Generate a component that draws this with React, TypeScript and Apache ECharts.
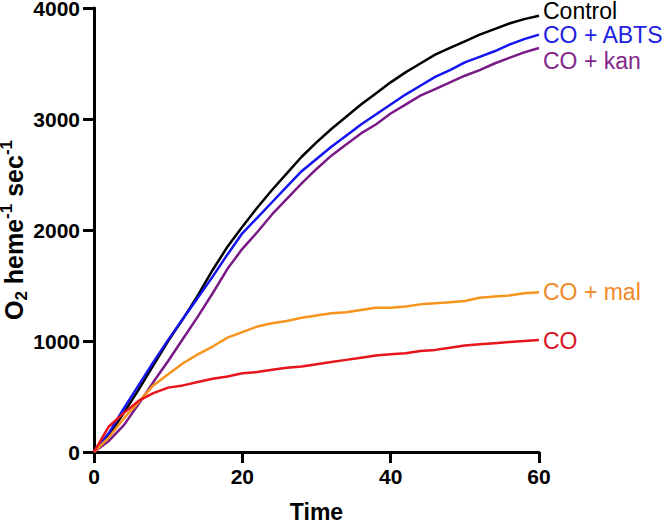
import React, { useEffect, useRef } from "react";
import * as echarts from "echarts";

const times = [0, 2, 4, 6, 8, 10, 12, 14, 16, 18, 20, 22, 24, 26, 28, 30, 32, 34, 36, 38, 40, 42, 44, 46, 48, 50, 52, 54, 56, 58, 60];

const control = [0, 150, 350, 560, 780, 1000, 1200, 1410, 1640, 1850, 2030, 2200, 2360, 2510, 2660, 2790, 2910, 3020, 3130, 3230, 3330, 3420, 3500, 3580, 3640, 3700, 3760, 3810, 3860, 3900, 3930];
const coAbts = [0, 170, 390, 600, 810, 1010, 1200, 1390, 1580, 1780, 1970, 2110, 2250, 2390, 2530, 2640, 2750, 2850, 2950, 3040, 3130, 3220, 3300, 3380, 3440, 3510, 3560, 3610, 3670, 3720, 3760];
const coKan = [0, 100, 240, 430, 630, 820, 1020, 1220, 1430, 1650, 1830, 1980, 2140, 2280, 2420, 2550, 2670, 2770, 2870, 2950, 3050, 3130, 3210, 3270, 3330, 3390, 3440, 3500, 3550, 3600, 3640];
const coMal = [0, 130, 300, 450, 600, 700, 800, 880, 950, 1030, 1080, 1130, 1160, 1180, 1210, 1230, 1250, 1260, 1280, 1300, 1300, 1310, 1330, 1340, 1350, 1360, 1390, 1400, 1410, 1430, 1440];
const co = [0, 230, 350, 460, 530, 580, 600, 630, 660, 680, 710, 720, 740, 760, 770, 790, 810, 830, 850, 870, 880, 890, 910, 920, 940, 960, 970, 980, 990, 1000, 1010];

const seriesNames = ["Control", "CO + ABTS", "CO + kan", "CO + mal", "CO"];
const seriesData = [control, coAbts, coKan, coMal, co];
const lineColors = ["#000000", "#1414f0", "#7a1a86", "#f7941d", "#e8141c"];
const labelColors = ["#000000", "#1e1ee0", "#84278a", "#f08a28", "#d8151e"];
const labelOffsets = [[0, -5], [0, 0], [0, 13], [0, 0], [0, 1]];

const xTicks = { min: 0, max: 60, interval: 20 };
const yTicks = { min: 0, max: 4000, interval: 1000 };
const yTitle = "{a|O}{s|2}{a| heme}{p|-1}{a| sec}{p|-1}";

const FONT = "'Liberation Sans', Arial, Helvetica, sans-serif";

export default function App() {
  const ref = useRef<HTMLDivElement>(null);
  useEffect(() => {
    if (!ref.current) return;
    const chart = echarts.init(ref.current, undefined, { renderer: "svg" });
    const axisCommon = {
      axisLine: { show: true, lineStyle: { color: "#000", width: 3 } },
      axisTick: { show: true, length: 11, lineStyle: { color: "#000", width: 3 } },
      splitLine: { show: false },
    };
    chart.setOption({
      animation: false,
      backgroundColor: "#fff",
      grid: { left: 94, right: 127, top: 8, bottom: 72, containLabel: false, outerBoundsMode: "none" },
      graphic: [
        {
          type: "text",
          x: 14,
          y: 230,
          rotation: Math.PI / 2,
          style: {
            text: yTitle,
            align: "center",
            verticalAlign: "middle",
            fill: "#000",
            font: "bold 25px " + FONT,
            rich: {
              a: { fontFamily: FONT, fontWeight: "bold", fontSize: 25, fill: "#000", verticalAlign: "middle", lineHeight: 32 },
              s: { fontFamily: FONT, fontWeight: "bold", fontSize: 17, fill: "#000", verticalAlign: "bottom", lineHeight: 32 },
              p: { fontFamily: FONT, fontWeight: "bold", fontSize: 17, fill: "#000", verticalAlign: "top", lineHeight: 32 },
            },
          },
        },
      ],
      xAxis: {
        type: "value",
        ...xTicks,
        ...axisCommon,
        axisLabel: { color: "#000", fontFamily: FONT, fontWeight: "bold", fontSize: 21, margin: 14, formatter: (v: number) => String(v) },
        name: "Time",
        nameLocation: "middle",
        nameGap: 48,
        nameTextStyle: { color: "#000", fontFamily: FONT, fontWeight: "bold", fontSize: 23 },
      },
      yAxis: {
        type: "value",
        ...yTicks,
        ...axisCommon,
        axisLabel: { color: "#000", fontFamily: FONT, fontWeight: "bold", fontSize: 21, margin: 14, formatter: (v: number) => String(v) },
      },
      series: seriesNames.map((name, i) => ({
        name,
        type: "line",
        data: times.map((t, j) => [t, seriesData[i][j]]),
        showSymbol: false,
        symbol: "none",
        lineStyle: { color: lineColors[i], width: 2.5 },
        itemStyle: { color: lineColors[i] },
        endLabel: {
          show: true,
          formatter: name,
          color: labelColors[i],
          fontFamily: FONT,
          fontSize: 23,
          distance: 4,
          offset: labelOffsets[i],
        },
      })),
    });
    return () => chart.dispose();
  }, []);
  return <div ref={ref} style={{ position: "fixed", left: 0, top: 0, width: 666, height: 524 }} />;
}
